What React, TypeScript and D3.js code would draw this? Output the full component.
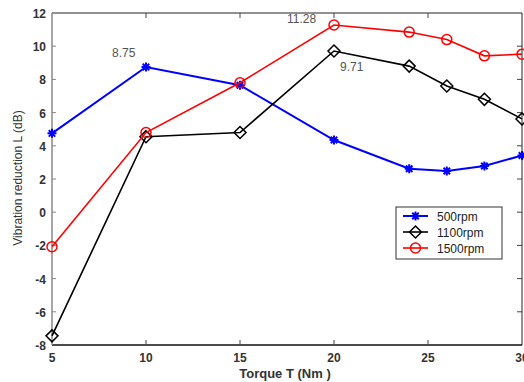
import React, { useEffect, useRef } from 'react'
import * as d3 from 'd3'

const torque = [5, 10, 15, 20, 24, 26, 28, 30]
const rpm500 = [4.75, 8.75, 7.65, 4.35, 2.62, 2.48, 2.78, 3.42]
const rpm1100 = [-7.45, 4.55, 4.8, 9.71, 8.8, 7.6, 6.8, 5.62]
const rpm1500 = [-2.08, 4.8, 7.8, 11.28, 10.85, 10.4, 9.42, 9.52]
const seriesNames = ['500rpm', '1100rpm', '1500rpm']
const xTicks = [5, 10, 15, 20, 25, 30]
const yTicks = [-8, -6, -4, -2, 0, 2, 4, 6, 8, 10, 12]
const notes = [
  { x: 10, y: 8.75, text: '8.75', dx: -34, dy: -10 },
  { x: 20, y: 11.28, text: '11.28', dx: -47, dy: -2 },
  { x: 20, y: 9.71, text: '9.71', dx: 6, dy: 20 },
]

const W = 524
const H = 382

const App = () => {
  const ref = useRef<SVGSVGElement>(null)

  useEffect(() => {
    const svg = d3.select(ref.current)
    svg.selectAll('*').remove()

    const margin = { top: 13, right: 2, bottom: 37, left: 52 }
    const x = d3.scaleLinear().domain([5, 30]).range([margin.left, W - margin.right])
    const y = d3.scaleLinear().domain([-8, 12]).range([H - margin.bottom, margin.top])
    const font = 'Liberation Sans, Arial, sans-serif'

    svg.append('rect').attr('width', W).attr('height', H).attr('fill', '#fff')

    // frame
    const g = svg.append('g')
    g.append('line').attr('x1', x(5)).attr('x2', x(30)).attr('y1', y(12)).attr('y2', y(12)).attr('stroke', '#222')
    g.append('line').attr('x1', x(5)).attr('x2', x(30)).attr('y1', y(-8)).attr('y2', y(-8)).attr('stroke', '#111').attr('stroke-width', 1.5)
    g.append('line').attr('x1', x(5)).attr('x2', x(5)).attr('y1', y(12)).attr('y2', y(-8)).attr('stroke', '#888').attr('stroke-width', 1.5)
    g.append('line').attr('x1', x(30)).attr('x2', x(30)).attr('y1', y(12)).attr('y2', y(-8)).attr('stroke', '#222')

    // ticks
    xTicks.slice(1, -1).forEach(t => {
      g.append('line').attr('x1', x(t)).attr('x2', x(t)).attr('y1', y(-8)).attr('y2', y(-8) - 5).attr('stroke', '#444')
      g.append('line').attr('x1', x(t)).attr('x2', x(t)).attr('y1', y(12)).attr('y2', y(12) + 5).attr('stroke', '#444')
    })
    yTicks.slice(1, -1).forEach(t => {
      g.append('line').attr('x1', x(30)).attr('x2', x(30) - 5).attr('y1', y(t)).attr('y2', y(t)).attr('stroke', '#444')
      g.append('line').attr('x1', x(5)).attr('x2', x(5) + 4).attr('y1', y(t)).attr('y2', y(t)).attr('stroke', '#888')
    })

    g.selectAll('.xl')
      .data(xTicks)
      .enter()
      .append('text')
      .text(d => d)
      .attr('x', d => x(d))
      .attr('y', y(-8) + 17)
      .attr('text-anchor', 'middle')
      .attr('font-family', font)
      .attr('font-size', 12)
      .attr('font-weight', 'bold')
      .attr('fill', '#333')

    g.selectAll('.yl')
      .data(yTicks)
      .enter()
      .append('text')
      .text(d => d)
      .attr('x', x(5) - 6)
      .attr('y', d => y(d) + 5)
      .attr('text-anchor', 'end')
      .attr('font-family', font)
      .attr('font-size', 12)
      .attr('font-weight', 'bold')
      .attr('fill', '#333')

    svg // xlab
      .append('text')
      .text('Torque T (Nm )')
      .attr('x', 285)
      .attr('y', 378)
      .attr('text-anchor', 'middle')
      .attr('font-family', font)
      .attr('font-size', 13)
      .attr('font-weight', 'bold')
      .attr('fill', '#333')

    svg // ylab
      .append('text')
      .text('Vibration reduction L (dB)')
      .attr('transform', 'rotate(-90)')
      .attr('x', -178)
      .attr('y', 22)
      .attr('text-anchor', 'middle')
      .attr('font-family', font)
      .attr('font-size', 12)
      .attr('fill', '#333')

    const line = d3.line<[number, number]>().x(d => x(d[0])).y(d => y(d[1]))
    const series = [
      { values: rpm500, color: '#0000ff', width: 2, marker: 'star' },
      { values: rpm1100, color: '#000000', width: 1.6, marker: 'diamond' },
      { values: rpm1500, color: '#ff0000', width: 1.6, marker: 'circle' },
    ]

    const drawMarker = (sel: any, marker: string, color: string, cx: number, cy: number) => {
      if (marker === 'circle') {
        sel.append('circle').attr('cx', cx).attr('cy', cy).attr('r', 5).attr('fill', 'none').attr('stroke', color).attr('stroke-width', 1.5)
      } else if (marker === 'diamond') {
        const s = 6
        sel.append('path')
          .attr('d', `M${cx},${cy - s}L${cx + s},${cy}L${cx},${cy + s}L${cx - s},${cy}Z`)
          .attr('fill', 'none').attr('stroke', color).attr('stroke-width', 1.5)
      } else {
        const s = 4.5
        const d2 = s * 0.72
        sel.append('path')
          .attr('d', `M${cx - s},${cy}L${cx + s},${cy}M${cx},${cy - s}L${cx},${cy + s}M${cx - d2},${cy - d2}L${cx + d2},${cy + d2}M${cx - d2},${cy + d2}L${cx + d2},${cy - d2}`)
          .attr('stroke', color).attr('stroke-width', 2)
      }
    }

    const plot = svg.append('g')
    series.forEach(s => {
      const pts = torque.map((t, i) => [t, s.values[i]] as [number, number])
      plot.append('path').attr('d', line(pts)).attr('fill', 'none').attr('stroke', s.color).attr('stroke-width', s.width)
      pts.forEach(p => drawMarker(plot, s.marker, s.color, x(p[0]), y(p[1])))
    })

    notes.forEach(n => {
      svg.append('text')
        .text(n.text)
        .attr('x', x(n.x) + n.dx)
        .attr('y', y(n.y) + n.dy)
        .attr('font-family', font)
        .attr('font-size', 12)
        .attr('fill', '#555')
    })

    // legend
    const lg = svg.append('g').attr('transform', 'translate(396,207)')
    lg.append('rect').attr('width', 106).attr('height', 52).attr('fill', '#fff').attr('stroke', '#333')
    series.forEach((s, i) => {
      const ly = 9 + i * 16
      lg.append('line').attr('x1', 7).attr('x2', 32).attr('y1', ly).attr('y2', ly).attr('stroke', s.color).attr('stroke-width', s.width)
      drawMarker(lg, s.marker, s.color, 19.5, ly)
      lg.append('text')
        .text(seriesNames[i])
        .attr('x', 41)
        .attr('y', ly + 4.5)
        .attr('font-family', font)
        .attr('font-size', 12)
        .attr('fill', '#222')
    })
  }, [])

  return <svg ref={ref} width={W} height={H} style={{ position: 'absolute', left: 0, top: 0 }} />
}

export default App
